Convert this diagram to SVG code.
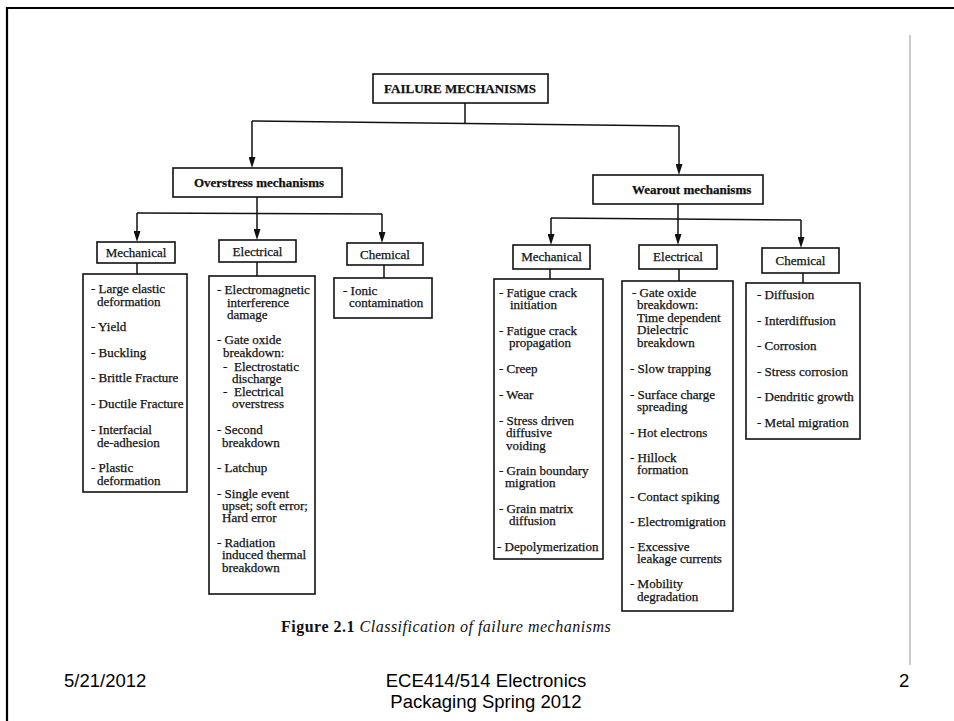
<svg xmlns="http://www.w3.org/2000/svg" width="954" height="721" viewBox="0 0 954 721">
<style>
.bg{fill:#fff}
.box{fill:#fff;stroke:#111;stroke-width:1.6}
.t{font-family:"Liberation Serif","Times New Roman",serif;font-size:13px;fill:#111;stroke:#111;stroke-width:0.25}
.b{font-weight:bold}
.c{text-anchor:middle}
.ln{stroke:#111;stroke-width:1.5;fill:none}
.ar{marker-end:url(#ah)}
.ft{font-family:"Liberation Sans",Arial,sans-serif;font-size:18.5px;fill:#000}
.cap{font-family:"Liberation Serif","Times New Roman",serif;font-size:16px;fill:#111;letter-spacing:0.5px}
</style>
<defs>
<marker id="ah" markerUnits="userSpaceOnUse" markerWidth="11" markerHeight="7" refX="8" refY="3.5" orient="auto">
<path d="M0,0 L11,3.5 L0,7 Z" fill="#111"/>
</marker>
</defs>
<rect class="bg" x="0" y="0" width="954" height="721"/>
<path d="M7,721 V8 H954" fill="none" stroke="#000" stroke-width="2.2"/>
<line x1="910" y1="35" x2="910" y2="665" stroke="#999" stroke-width="1"/>

<g id="connectors">
<path class="ln" d="M465,103 V123.5"/>
<path class="ln" d="M252,121 L679,126"/>
<path class="ln ar" d="M252,121 V165"/>
<path class="ln ar" d="M679,126 V172"/>
<path class="ln" d="M257,197 V213.5"/>
<path class="ln" d="M137,213 L382,214"/>
<path class="ln ar" d="M137,213 V239"/>
<path class="ln ar" d="M257,213.5 V237"/>
<path class="ln ar" d="M382,214 V240"/>
<path class="ln" d="M137,263 V274"/>
<path class="ln" d="M257,262 V276"/>
<path class="ln" d="M384,265 V278"/>
<path class="ln" d="M678,204 V219"/>
<path class="ln" d="M551,218 L801,220"/>
<path class="ln ar" d="M551,218 V242"/>
<path class="ln ar" d="M678,219 V242"/>
<path class="ln ar" d="M801,220 V245"/>
<path class="ln" d="M550,269 V279"/>
<path class="ln" d="M679,269 V281"/>
<path class="ln" d="M803,273 V283"/>
</g>

<g id="failure-mechanisms">
<rect class="box" x="373" y="74" width="175" height="29" stroke-width="2"/>
<text class="t b c" x="460" y="93" font-size="13.5">FAILURE MECHANISMS</text>
</g>

<g id="overstress">
<rect class="box" x="173" y="168" width="169" height="29"/>
<text class="t b c" x="259" y="187">Overstress mechanisms</text>
</g>

<g id="wearout">
<rect class="box" x="593" y="175" width="170" height="29"/>
<text class="t b" x="632" y="194">Wearout mechanisms</text>
</g>

<g id="os-mechanical">
<rect class="box" x="97" y="242" width="78" height="21"/>
<text class="t c" x="136" y="257">Mechanical</text>
</g>
<g id="os-electrical">
<rect class="box" x="219" y="240" width="77" height="22"/>
<text class="t c" x="257.5" y="255.5">Electrical</text>
</g>
<g id="os-chemical">
<rect class="box" x="347" y="243" width="76" height="22"/>
<text class="t c" x="385" y="258.5">Chemical</text>
</g>

<g id="os-mechanical-list">
<rect class="box" x="83" y="274" width="104" height="218"/>
<text class="t">
<tspan x="91" y="293">- Large elastic</tspan>
<tspan x="97" y="306">deformation</tspan>
<tspan x="91" y="331">- Yield</tspan>
<tspan x="91" y="357">- Buckling</tspan>
<tspan x="91" y="382">- Brittle Fracture</tspan>
<tspan x="91" y="408">- Ductile Fracture</tspan>
<tspan x="91" y="434">- Interfacial</tspan>
<tspan x="97" y="447">de-adhesion</tspan>
<tspan x="91" y="472">- Plastic</tspan>
<tspan x="97" y="485">deformation</tspan>
</text>
</g>

<g id="os-electrical-list">
<rect class="box" x="209" y="276" width="106" height="318"/>
<text class="t">
<tspan x="217" y="294">- Electromagnetic</tspan>
<tspan x="227" y="307">interference</tspan>
<tspan x="227" y="319">damage</tspan>
<tspan x="217" y="344">- Gate oxide</tspan>
<tspan x="223" y="357">breakdown:</tspan>
<tspan x="223" y="371">-</tspan><tspan x="234" y="371">Electrostatic</tspan>
<tspan x="232" y="383">discharge</tspan>
<tspan x="223" y="396">-</tspan><tspan x="234" y="396">Electrical</tspan>
<tspan x="232" y="408">overstress</tspan>
<tspan x="217" y="434">- Second</tspan>
<tspan x="222" y="447">breakdown</tspan>
<tspan x="217" y="472">- Latchup</tspan>
<tspan x="217" y="498">- Single event</tspan>
<tspan x="222" y="510">upset; soft error;</tspan>
<tspan x="222" y="522">Hard error</tspan>
<tspan x="217" y="547">- Radiation</tspan>
<tspan x="222" y="559">induced thermal</tspan>
<tspan x="222" y="572">breakdown</tspan>
</text>
</g>

<g id="os-chemical-list">
<rect class="box" x="334" y="278" width="98" height="40"/>
<text class="t">
<tspan x="343" y="295">- Ionic</tspan>
<tspan x="349" y="307">contamination</tspan>
</text>
</g>

<g id="wo-mechanical">
<rect class="box" x="513" y="245" width="77" height="24"/>
<text class="t c" x="551.5" y="261">Mechanical</text>
</g>
<g id="wo-electrical">
<rect class="box" x="639" y="245" width="78" height="24"/>
<text class="t c" x="678" y="261">Electrical</text>
</g>
<g id="wo-chemical">
<rect class="box" x="762" y="248" width="77" height="25"/>
<text class="t c" x="800.5" y="265">Chemical</text>
</g>

<g id="wo-mechanical-list">
<rect class="box" x="494" y="279" width="109" height="280"/>
<text class="t">
<tspan x="499" y="297">- Fatigue crack</tspan>
<tspan x="510" y="309">initiation</tspan>
<tspan x="499" y="335">- Fatigue crack</tspan>
<tspan x="509" y="347">propagation</tspan>
<tspan x="499" y="373">- Creep</tspan>
<tspan x="499" y="399">- Wear</tspan>
<tspan x="499" y="425">- Stress driven</tspan>
<tspan x="506" y="437">diffusive</tspan>
<tspan x="506" y="450">voiding</tspan>
<tspan x="499" y="475">- Grain boundary</tspan>
<tspan x="505" y="487">migration</tspan>
<tspan x="499" y="513">- Grain matrix</tspan>
<tspan x="509" y="525">diffusion</tspan>
<tspan x="497" y="551">- Depolymerization</tspan>
</text>
</g>

<g id="wo-electrical-list">
<rect class="box" x="622" y="281" width="111" height="330"/>
<text class="t">
<tspan x="632" y="297">- Gate oxide</tspan>
<tspan x="637" y="309">breakdown:</tspan>
<tspan x="637" y="322">Time dependent</tspan>
<tspan x="637" y="334">Dielectric</tspan>
<tspan x="637" y="347">breakdown</tspan>
<tspan x="630" y="373">- Slow trapping</tspan>
<tspan x="630" y="399">- Surface charge</tspan>
<tspan x="637" y="411">spreading</tspan>
<tspan x="630" y="437">- Hot electrons</tspan>
<tspan x="630" y="462">- Hillock</tspan>
<tspan x="637" y="474">formation</tspan>
<tspan x="630" y="501">- Contact spiking</tspan>
<tspan x="630" y="526">- Electromigration</tspan>
<tspan x="630" y="551">- Excessive</tspan>
<tspan x="637" y="563">leakage currents</tspan>
<tspan x="630" y="588">- Mobility</tspan>
<tspan x="637" y="601">degradation</tspan>
</text>
</g>

<g id="wo-chemical-list">
<rect class="box" x="746" y="283" width="114" height="156"/>
<text class="t">
<tspan x="757" y="299">- Diffusion</tspan>
<tspan x="757" y="325">- Interdiffusion</tspan>
<tspan x="757" y="350">- Corrosion</tspan>
<tspan x="757" y="376">- Stress corrosion</tspan>
<tspan x="757" y="401">- Dendritic growth</tspan>
<tspan x="757" y="427">- Metal migration</tspan>
</text>
</g>

<text class="cap" x="281" y="632"><tspan font-weight="bold">Figure 2.1</tspan> <tspan font-style="italic">Classification  of failure  mechanisms</tspan></text>

<text class="ft" x="64" y="687">5/21/2012</text>
<text class="ft c" x="486" y="687">ECE414/514 Electronics</text>
<text class="ft c" x="486" y="708">Packaging Spring 2012</text>
<text class="ft" x="899" y="687">2</text>
</svg>
